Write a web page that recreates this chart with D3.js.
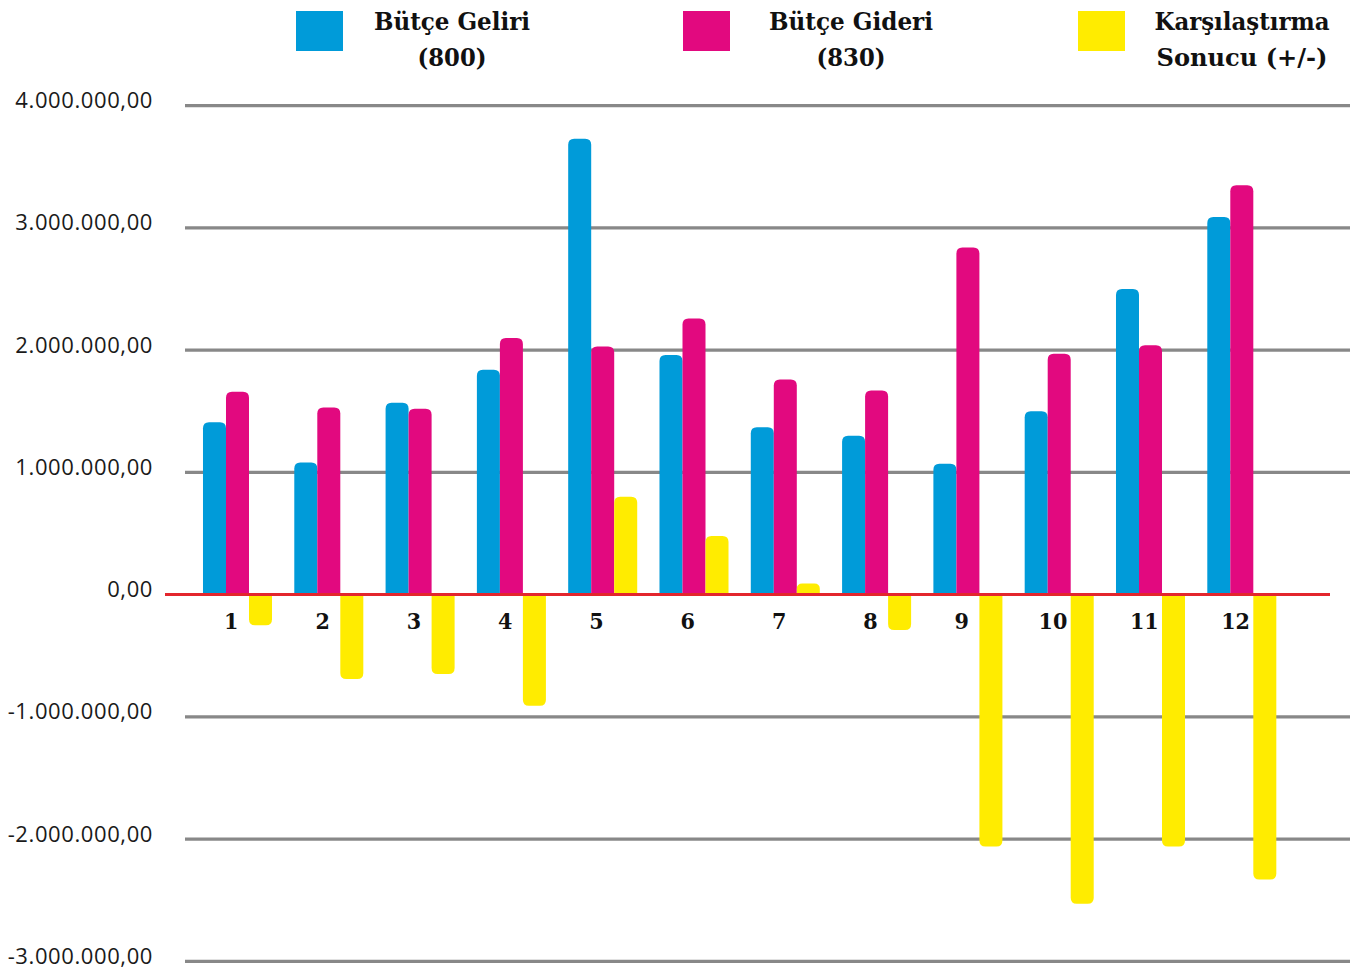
<!DOCTYPE html>
<html><head><meta charset="utf-8">
<script src="https://cdn.jsdelivr.net/npm/d3@7"></script>
<style>html,body{margin:0;padding:0;background:#fff;}svg{display:block;}</style>
</head><body>
<svg id="chart" width="1357" height="969"></svg>
<script>
const categories = ["1","2","3","4","5","6","7","8","9","10","11","12"];
const butceGeliri = [1410000,1080000,1570000,1840000,3730000,1960000,1370000,1300000,1070000,1500000,2500000,3090000];
const butceGideri = [1660000,1530000,1520000,2100000,2030000,2260000,1760000,1670000,2840000,1970000,2040000,3350000];
const sonuc = [-250000,-690000,-650000,-910000,800000,480000,90000,-290000,-2060000,-2530000,-2060000,-2330000];
const yTicks = [4000000,3000000,2000000,1000000,0,-1000000,-2000000,-3000000];
const yTickLabels = ["4.000.000,00","3.000.000,00","2.000.000,00","1.000.000,00","0,00","-1.000.000,00","-2.000.000,00","-3.000.000,00"];
const seriesNames = ["geliri","gideri","sonuc"];
const seriesColors = ["#009bd9","#e2097f","#ffec00"];
const legendLines = [["Bütçe Geliri","(800)"],["Bütçe Gideri","(830)"],["Karşılaştırma","Sonucu (+/-)"]];

const svg = d3.select("#chart");
const y = d3.scaleLinear().domain([-3000000,4000000]).range([961.3,105.7]);
const x0 = d3.scaleBand().domain(categories).range([185,1294.3]).paddingInner(0.244).paddingOuter(0.197);
const x1 = d3.scaleBand().domain(seriesNames).range([0,x0.bandwidth()]).padding(0);

// gridlines
svg.append("g").selectAll("line").data(yTicks.filter(d=>d!==0)).join("line")
  .attr("x1",185).attr("x2",1350)
  .attr("y1",d=>y(d)).attr("y2",d=>y(d))
  .attr("stroke","#888888").attr("stroke-width",3.2);

// y labels
svg.append("g").selectAll("text").data(yTicks).join("text")
  .attr("x",153).attr("y",d=>y(d)+2.5)
  .attr("text-anchor","end")
  .attr("font-family","'Open Sans', sans-serif")
  .attr("font-size",22).attr("letter-spacing",0.6).attr("fill","#1a1a1a")
  .text((d,i)=>yTickLabels[i]);

// bars
function barPath(xl, w, v){
  const y0 = y(0), y1 = y(v);
  const r = Math.min(6, Math.abs(y1-y0)/2, w/2);
  if (v >= 0){
    return `M${xl},${y0} V${y1+r} Q${xl},${y1} ${xl+r},${y1} H${xl+w-r} Q${xl+w},${y1} ${xl+w},${y1+r} V${y0} Z`;
  } else {
    return `M${xl},${y0} V${y1-r} Q${xl},${y1} ${xl+r},${y1} H${xl+w-r} Q${xl+w},${y1} ${xl+w},${y1-r} V${y0} Z`;
  }
}
const allSeries = [butceGeliri, butceGideri, sonuc];
const rows = categories.map((c,i)=>({c, vals: seriesNames.map((s,j)=>({s, v: allSeries[j][i], color: seriesColors[j]}))}));
const groups = svg.append("g").selectAll("g").data(rows).join("g")
  .attr("transform",d=>`translate(${x0(d.c)},0)`);
groups.selectAll("path").data(d=>d.vals).join("path")
  .attr("d",d=>barPath(x1(d.s), x1.bandwidth(), d.v))
  .attr("fill",d=>d.color);

// zero line
svg.append("line").attr("x1",165).attr("x2",1330).attr("y1",y(0)).attr("y2",y(0))
  .attr("stroke","#e3262d").attr("stroke-width",3);

// category labels
svg.append("g").selectAll("text").data(categories).join("text")
  .attr("x",d=>x0(d)+x0.bandwidth()*0.41).attr("y",y(0)+34)
  .attr("text-anchor","middle")
  .attr("font-family","'DejaVu Serif Condensed','DejaVu Serif',serif")
  .attr("font-weight","bold").attr("font-size",23).attr("fill","#111")
  .text(d=>d);

// legend
const legendSquareX = [296,683,1078];
const legendTextX = [452,851,1242];
const legendWidths = [[156,69],[164,69],[175,171]];
const lg = svg.append("g");
lg.selectAll("rect").data(seriesColors).join("rect")
  .attr("x",(d,i)=>legendSquareX[i]).attr("y",11).attr("width",47).attr("height",40)
  .attr("fill",d=>d);
legendLines.forEach((lines,i)=>{
  lines.forEach((t,k)=>{
    lg.append("text").attr("x",legendTextX[i]).attr("y",k===0?30:66)
      .attr("text-anchor","middle")
      .attr("font-family","'DejaVu Serif Condensed','DejaVu Serif',serif")
      .attr("font-weight","bold").attr("font-size",25).attr("fill","#111")
      .attr("textLength",legendWidths[i][k]).attr("lengthAdjust","spacingAndGlyphs")
      .text(t);
  });
});
</script>
</body></html>
